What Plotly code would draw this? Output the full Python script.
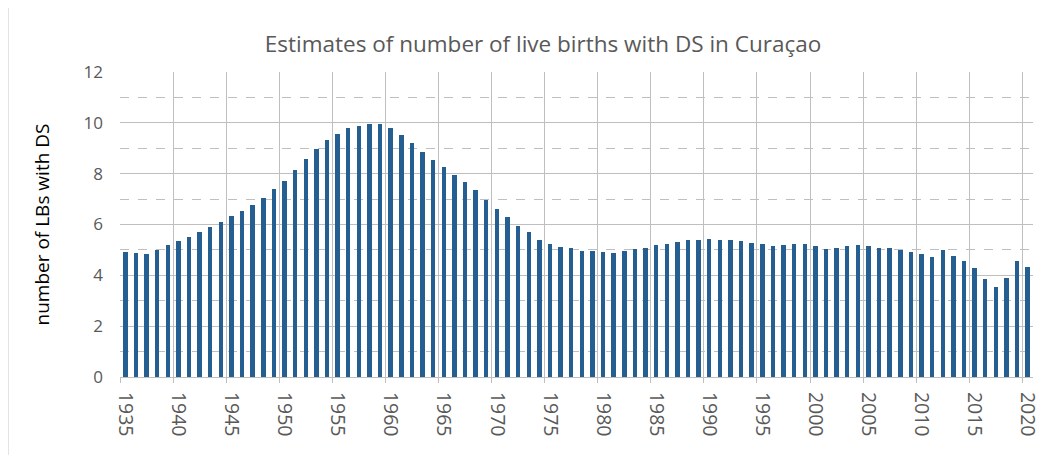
import plotly.graph_objects as go

years = list(range(1935, 2021))
values = [
    4.91, 4.87, 4.85, 5.01, 5.18, 5.35, 5.52, 5.69, 5.89, 6.10,
    6.35, 6.55, 6.76, 7.06, 7.40, 7.71, 8.13, 8.56, 8.96, 9.32,
    9.57, 9.80, 9.87, 9.97, 9.97, 9.80, 9.51, 9.22, 8.84, 8.54,
    8.26, 7.96, 7.68, 7.34, 6.97, 6.61, 6.28, 5.94, 5.69, 5.41,
    5.22, 5.10, 5.07, 4.97, 4.97, 4.91, 4.87, 4.95, 5.02, 5.07,
    5.18, 5.22, 5.31, 5.41, 5.41, 5.44, 5.41, 5.39, 5.35, 5.26,
    5.22, 5.15, 5.19, 5.23, 5.23, 5.15, 5.05, 5.09, 5.15, 5.18,
    5.15, 5.09, 5.07, 4.99, 4.91, 4.82, 4.74, 4.99, 4.78, 4.55,
    4.30, 3.87, 3.54, 3.89, 4.58, 4.31,
]
tick_years = list(range(1935, 2021, 5))
tick_labels = [str(y) for y in tick_years]
title_text = "Estimates of number of live births with DS in Curaçao"
y_title = "number of LBs with DS"

# page body has an 8px margin, so the figure is sized/offset to compensate
W, H = 1046, 447
L, R, T, B = 112, 15, 64, 78
pw, ph = W - L - R, H - T - B

fig = go.Figure(go.Bar(x=years, y=values, width=0.42, marker=dict(color="#255E91", line=dict(width=0))))

grid = "#BFBFBF"
fig.update_layout(
    width=W, height=H,
    paper_bgcolor="white", plot_bgcolor="white",
    margin=dict(l=L, r=R, t=T, b=B),
    showlegend=False,
    title=dict(text=title_text, x=535 / W, xanchor="center", y=1 - 36 / H, yanchor="middle",
               font=dict(family="Open Sans", size=22.5, color="#595959")),
    font=dict(family="Open Sans", color="#595959"),
    bargap=0,
)
fig.update_xaxes(
    range=[1934.5, 2020.5],
    tickmode="array", tickvals=tick_years, ticktext=tick_labels,
    tickangle=90, tickfont=dict(family="Open Sans", size=19.5, color="#595959"),
    ticks="", showgrid=False, zeroline=False,
    showline=True, linecolor=grid, linewidth=1,
    ticklabelstandoff=10,
    minor=dict(tickmode="array", tickvals=[y - 0.5 for y in tick_years],
               showgrid=True, gridcolor=grid, gridwidth=1,
               ticks="outside", ticklen=5, tickcolor=grid),
)
fig.update_yaxes(
    range=[0, 12], dtick=2, tick0=0,
    tickfont=dict(family="Open Sans", size=17, color="#595959"),
    showgrid=True, gridcolor=grid, gridwidth=1,
    zeroline=False, showline=False,
    ticks="", ticklabelstandoff=16,
    minor=dict(dtick=1, showgrid=True, gridcolor=grid, griddash="dash", gridwidth=1),
    title=dict(text=y_title, font=dict(size=19, color="#000000"), standoff=28),
)
fig.add_shape(type="rect", xref="paper", yref="paper",
              x0=-(L + 1) / pw, x1=2.0, y0=-2.0, y1=1.0 + (T + 1) / ph,
              line=dict(color="#D9D9D9", width=2), fillcolor="rgba(0,0,0,0)", layer="below")
fig.write_html("out.html")
